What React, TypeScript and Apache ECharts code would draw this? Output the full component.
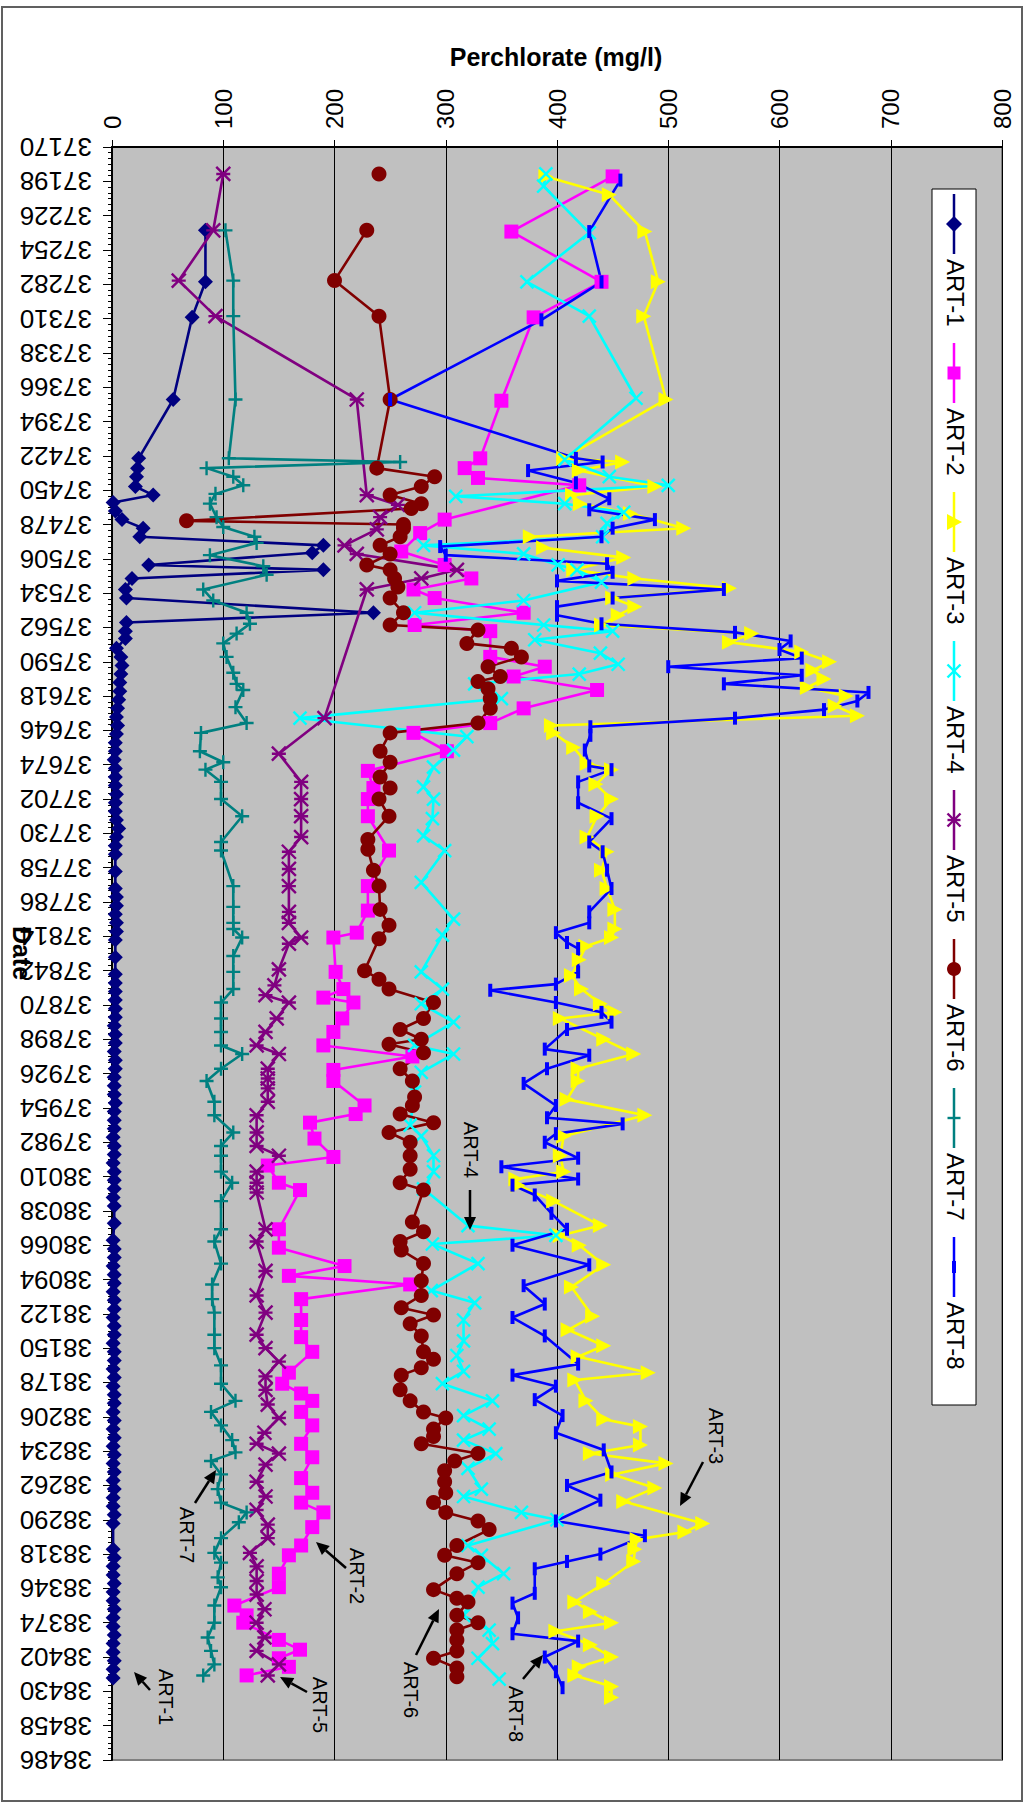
import React, { useEffect, useRef } from "react";
import * as echarts from "echarts";

// [date serial, perchlorate mg/l]
const art1: number[][] = [
  [37238,84],[37280,84],[37309,72],[37376,55],[37424,24],[37432,23],[37439,22],[37447,21],[37454,37],[37460,1],[37467,3],[37474,9],[37481,28],[37488,25],[37495,190],[37501,180],[37511,33],[37515,190],[37522,18],[37531,12],[37538,13],[37550,235],[37558,13],[37565,12],[37571,12],[37579,4],[37586,8],[37593,9],[37600,8],[37607,7],[37614,7],[37621,6],[37628,5],[37635,4],[37642,5],[37649,4],[37656,3],[37663,3],[37670,2],[37677,3],[37684,3],[37691,3],[37698,4],[37705,3],[37712,3],[37719,4],[37726,6],[37733,4],[37740,3],[37747,3],[37761,3],[37775,3],[37782,4],[37789,4],[37796,3],[37803,4],[37810,4],[37817,3],[37831,3],[37845,3],[37852,3],[37859,3],[37866,3],[37873,3],[37880,3],[37887,2],[37894,3],[37901,3],[37908,2],[37915,3],[37922,3],[37929,2],[37936,2],[37943,2],[37950,3],[37957,2],[37964,2],[37971,2],[37978,1],[37985,2],[37992,2],[37999,1],[38006,2],[38013,2],[38020,2],[38027,1],[38034,2],[38048,2],[38062,1],[38069,2],[38076,2],[38083,1],[38090,2],[38097,2],[38104,1],[38111,2],[38118,2],[38125,1],[38132,2],[38139,2],[38146,1],[38153,2],[38160,2],[38167,1],[38174,2],[38181,1],[38188,2],[38195,2],[38202,1],[38209,2],[38216,1],[38223,2],[38230,1],[38237,2],[38244,1],[38251,2],[38258,1],[38265,2],[38272,1],[38279,1],[38286,2],[38293,1],[38314,1],[38321,2],[38328,1],[38335,1],[38342,2],[38349,1],[38356,1],[38363,2],[38370,1],[38377,1],[38384,2],[38391,1],[38398,1],[38405,2],[38412,1],[38419,1]
];

const art2: number[][] = [
  [37194,450],[37239,359],[37280,440],[37309,379],[37377,350],[37424,331],[37432,317],[37440,329],[37446,420],[37474,299],[37485,277],[37500,260],[37511,299],[37522,323],[37531,271],[37538,290],[37550,370],[37560,272],[37565,340],[37586,340],[37594,389],[37602,361],[37613,436],[37628,370],[37640,340],[37648,271],[37663,301],[37679,230],[37693,235],[37702,230],[37716,230],[37744,249],[37773,230],[37793,230],[37811,220],[37815,199],[37843,201],[37857,208],[37864,190],[37868,217],[37881,207],[37892,199],[37903,190],[37912,270],[37923,199],[37932,199],[37952,227],[37959,219],[37966,178],[37979,182],[37994,199],[38001,140],[38015,150],[38021,169],[38053,150],[38068,150],[38083,209],[38091,159],[38098,268],[38110,170],[38127,170],[38141,170],[38153,180],[38170,159],[38179,153],[38187,170],[38193,180],[38202,170],[38213,180],[38228,170],[38239,180],[38256,170],[38268,180],[38276,170],[38284,190],[38296,180],[38311,170],[38319,159],[38334,150],[38345,150],[38360,110],[38368,121],[38374,118],[38388,150],[38396,169],[38403,150],[38410,159],[38417,121]
];

const art3: number[][] = [
  [37194,390],[37209,447],[37239,479],[37280,491],[37308,478],[37376,498],[37424,406],[37427,459],[37434,420],[37447,488],[37454,414],[37461,421],[37469,466],[37481,514],[37488,376],[37497,388],[37505,460],[37515,415],[37522,470],[37530,555],[37538,450],[37545,470],[37552,455],[37560,440],[37567,575],[37574,555],[37582,620],[37590,645],[37597,630],[37604,640],[37611,625],[37618,660],[37626,650],[37634,670],[37642,395],[37648,397],[37660,415],[37673,427],[37678,449],[37690,435],[37702,449],[37716,436],[37733,427],[37745,445],[37760,440],[37775,445],[37792,452],[37808,452],[37815,449],[37822,426],[37833,420],[37846,413],[37857,422],[37869,439],[37876,452],[37881,403],[37898,442],[37910,469],[37922,419],[37932,419],[37947,409],[37960,479],[37977,406],[37993,403],[38006,406],[38012,363],[38017,365],[38030,397],[38050,439],[38058,403],[38066,420],[38082,442],[38100,413],[38124,432],[38135,410],[38148,442],[38157,419],[38170,482],[38176,416],[38193,426],[38208,442],[38214,475],[38229,475],[38236,430],[38244,498],[38253,450],[38264,488],[38275,460],[38293,531],[38300,515],[38306,472],[38314,470],[38324,469],[38342,442],[38357,416],[38365,430],[38374,449],[38381,399],[38392,430],[38402,449],[38410,420],[38417,416],[38426,449],[38435,449]
];

const art4: number[][] = [
  [37192,390],[37202,388],[37240,429],[37280,373],[37308,429],[37375,471],[37425,407],[37439,447],[37446,500],[37455,309],[37461,407],[37468,460],[37477,445],[37488,441],[37495,280],[37502,370],[37511,401],[37515,418],[37525,440],[37540,370],[37550,272],[37560,388],[37565,450],[37572,380],[37583,439],[37592,455],[37600,420],[37608,326],[37620,350],[37636,169],[37651,319],[37662,307],[37676,289],[37692,280],[37702,289],[37718,288],[37732,280],[37744,299],[37770,278],[37800,307],[37813,297],[37843,278],[37857,297],[37869,278],[37884,307],[37903,272],[37910,307],[37925,278],[37941,272],[37968,268],[37977,278],[37993,289],[38006,289],[38020,280],[38050,320],[38058,399],[38065,288],[38081,329],[38103,287],[38113,326],[38127,316],[38144,316],[38156,310],[38169,316],[38179,297],[38193,342],[38205,316],[38216,339],[38225,316],[38236,345],[38248,320],[38265,332],[38271,316],[38284,368],[38290,400],[38311,320],[38319,332],[38334,352],[38345,329],[38368,316],[38380,339],[38391,342],[38403,329],[38420,348]
];

const art5: number[][] = [
  [37192,100],[37238,91],[37279,60],[37308,93],[37376,220],[37454,229],[37462,257],[37472,241],[37482,238],[37495,209],[37502,220],[37515,310],[37522,278],[37531,229],[37636,191],[37665,150],[37688,170],[37702,170],[37716,170],[37733,170],[37745,159],[37759,159],[37773,159],[37794,159],[37803,159],[37815,170],[37820,159],[37841,150],[37854,146],[37862,138],[37868,159],[37881,148],[37892,138],[37903,130],[37910,150],[37922,140],[37930,140],[37938,140],[37949,140],[37960,130],[37974,130],[37985,130],[37993,150],[38006,130],[38015,130],[38023,130],[38053,138],[38063,130],[38087,138],[38107,130],[38121,138],[38139,130],[38150,138],[38161,150],[38173,138],[38184,138],[38196,140],[38207,150],[38219,137],[38228,130],[38236,150],[38245,138],[38259,130],[38271,138],[38282,130],[38294,140],[38305,140],[38317,124],[38328,130],[38340,130],[38351,130],[38363,137],[38374,130],[38386,137],[38397,130],[38408,150],[38417,140]
];

const art6First: number[][] = [[37192,240]];
const art6: number[][] = [
  [37238,229],[37279,200],[37308,240],[37376,250],[37432,238],[37439,290],[37447,278],[37454,250],[37461,278],[37465,269],[37475,67],[37478,262],[37481,262],[37488,259],[37495,241],[37502,250],[37511,229],[37515,250],[37522,254],[37529,257],[37538,250],[37550,262],[37560,250],[37564,329],[37575,319],[37579,359],[37586,368],[37594,338],[37602,349],[37606,329],[37612,338],[37620,340],[37628,340],[37640,329],[37648,250],[37663,241],[37672,250],[37684,241],[37693,250],[37702,240],[37716,249],[37735,230],[37743,230],[37760,235],[37773,240],[37792,241],[37805,249],[37816,240],[37842,227],[37849,240],[37857,249],[37868,289],[37881,280],[37890,259],[37898,278],[37902,249],[37909,280],[37922,259],[37932,270],[37945,272],[37952,270],[37959,259],[37966,289],[37974,249],[37982,268],[37993,268],[38004,268],[38015,259],[38021,280],[38047,270],[38055,280],[38063,259],[38070,260],[38081,280],[38095,278],[38107,278],[38117,260],[38123,289],[38130,268],[38140,278],[38153,280],[38159,289],[38166,278],[38172,260],[38184,259],[38193,268],[38202,280],[38207,300],[38216,289],[38222,289],[38228,278],[38236,329],[38242,308],[38250,299],[38259,299],[38268,300],[38276,289],[38284,300],[38291,329],[38298,339],[38311,310],[38319,299],[38325,329],[38334,310],[38347,289],[38354,310],[38357,320],[38368,310],[38374,329],[38380,310],[38388,310],[38397,310],[38403,289],[38411,310],[38418,310]
];

const art7: number[][] = [
  [37238,102],[37279,109],[37308,109],[37376,111],[37424,105],[37427,259],[37432,85],[37439,109],[37446,118],[37453,93],[37461,88],[37472,94],[37480,100],[37488,128],[37493,130],[37503,88],[37512,136],[37519,139],[37531,82],[37540,91],[37550,121],[37559,124],[37567,112],[37575,100],[37586,103],[37599,109],[37608,112],[37613,118],[37627,111],[37640,121],[37648,80],[37663,79],[37672,100],[37678,84],[37688,98],[37702,98],[37716,117],[37737,98],[37744,98],[37773,109],[37790,109],[37803,109],[37808,109],[37815,117],[37830,109],[37843,109],[37857,109],[37868,98],[37881,98],[37892,98],[37903,98],[37910,117],[37922,98],[37932,85],[37949,92],[37960,92],[37974,109],[37985,98],[37993,98],[38006,98],[38015,108],[38030,98],[38053,98],[38063,92],[38081,98],[38098,90],[38110,90],[38121,92],[38139,92],[38150,92],[38164,98],[38179,98],[38193,111],[38202,89],[38213,98],[38225,108],[38235,111],[38242,89],[38253,98],[38265,95],[38276,98],[38284,121],[38292,114],[38305,98],[38317,92],[38325,98],[38337,95],[38345,98],[38360,92],[38374,92],[38386,86],[38397,89],[38408,92],[38417,82]
];

const art8: number[][] = [
  [37197,457],[37239,429],[37280,440],[37311,386],[37376,250],[37424,417],[37427,441],[37434,374],[37444,417],[37457,447],[37466,429],[37474,488],[37481,450],[37488,440],[37496,295],[37503,300],[37510,445],[37517,450],[37524,400],[37531,550],[37538,450],[37545,400],[37552,400],[37559,440],[37566,560],[37573,610],[37580,600],[37587,620],[37594,500],[37601,620],[37608,550],[37615,680],[37622,670],[37629,640],[37636,560],[37643,430],[37650,430],[37662,425],[37675,429],[37678,449],[37688,419],[37705,419],[37718,449],[37737,429],[37745,441],[37760,445],[37775,449],[37794,429],[37803,429],[37811,399],[37819,409],[37824,419],[37843,419],[37853,399],[37858,340],[37868,399],[37876,440],[37884,449],[37890,409],[37906,389],[37911,429],[37922,391],[37934,370],[37952,399],[37962,391],[37967,459],[37975,399],[37982,389],[37995,419],[38002,350],[38012,419],[38017,360],[38025,380],[38040,395],[38053,409],[38066,360],[38082,429],[38099,370],[38114,389],[38125,360],[38140,389],[38163,419],[38172,360],[38181,399],[38192,380],[38205,405],[38219,399],[38233,442],[38251,449],[38262,409],[38274,439],[38291,399],[38303,479],[38318,439],[38324,409],[38330,380],[38350,380],[38358,360],[38370,365],[38383,360],[38389,419],[38402,389],[38414,399],[38427,405]
];

const seriesNames = ["ART-1", "ART-2", "ART-3", "ART-4", "ART-5", "ART-6", "ART-7", "ART-8"];
const seriesColors = ["#000080", "#FF00FF", "#FFFF00", "#00FFFF", "#800080", "#800000", "#008080", "#0000FF"];

const FONT = '"Liberation Sans", Arial, sans-serif';

const PATH_X = "path://M0,0L10,10M10,0L0,10";
const PATH_STAR = "path://M0,0L10,10M10,0L0,10M0,5L10,5";
const PATH_PLUS = "path://M5,0L5,10M0,5L10,5";

function makeSeries(name: string, data: number[][], color: string, symbol: string, size: any, stroke: boolean, rotate = 0) {
  return {
    type: "line",
    name,
    data: data.map((p) => [p[1], p[0]]),
    symbol,
    symbolSize: size,
    symbolRotate: rotate,
    silent: true,
    lineStyle: { color, width: 2.6 },
    itemStyle: { color, borderColor: color, borderWidth: stroke ? 2.4 : 0 },
  };
}

function arrow(x1: number, y1: number, x2: number, y2: number) {
  const dx = x2 - x1, dy = y2 - y1;
  const len = Math.hypot(dx, dy);
  const ux = dx / len, uy = dy / len;
  const hl = 13, hw = 6;
  const bx = x2 - ux * hl, by = y2 - uy * hl;
  return [
    { type: "line", shape: { x1, y1, x2: bx, y2: by }, style: { stroke: "#000", lineWidth: 2.5 } },
    { type: "polygon", shape: { points: [[x2, y2], [bx - uy * hw, by + ux * hw], [bx + uy * hw, by - ux * hw]] }, style: { fill: "#000" } },
  ];
}

function vtext(text: string, x: number, y: number, size: number, bold = false, align = "center") {
  return {
    type: "text",
    x, y,
    rotation: -Math.PI / 2,
    style: {
      text,
      fill: "#000",
      font: `${bold ? "bold " : ""}${size}px ${FONT}`,
      textAlign: align, align,
      textVerticalAlign: "middle", verticalAlign: "middle",
    },
  };
}

function legendMarker(i: number, cx: number, cy: number) {
  const c = seriesColors[i];
  const els: any[] = [{ type: "line", shape: { x1: cx, y1: cy - 30, x2: cx, y2: cy + 30 }, style: { stroke: c, lineWidth: 2.5 } }];
  const s = 6.5;
  if (i === 0) els.push({ type: "polygon", shape: { points: [[cx, cy - 8], [cx + 8, cy], [cx, cy + 8], [cx - 8, cy]] }, style: { fill: c } });
  if (i === 1) els.push({ type: "rect", shape: { x: cx - s, y: cy - s, width: 2 * s, height: 2 * s }, style: { fill: c } });
  if (i === 2) els.push({ type: "polygon", shape: { points: [[cx - 7, cy - 8], [cx + 8, cy], [cx - 7, cy + 8]] }, style: { fill: c } });
  if (i === 3 || i === 4) {
    els.push({ type: "line", shape: { x1: cx - s, y1: cy - s, x2: cx + s, y2: cy + s }, style: { stroke: c, lineWidth: 2.4 } });
    els.push({ type: "line", shape: { x1: cx + s, y1: cy - s, x2: cx - s, y2: cy + s }, style: { stroke: c, lineWidth: 2.4 } });
    if (i === 4) els.push({ type: "line", shape: { x1: cx - s, y1: cy, x2: cx + s, y2: cy }, style: { stroke: c, lineWidth: 2.4 } });
  }
  if (i === 5) els.push({ type: "circle", shape: { cx, cy, r: 7 }, style: { fill: c } });
  if (i === 6) els.push({ type: "line", shape: { x1: cx - s, y1: cy, x2: cx + s, y2: cy }, style: { stroke: c, lineWidth: 2.4 } });
  if (i === 7) els.push({ type: "rect", shape: { x: cx - 2, y: cy - 6, width: 4, height: 12 }, style: { fill: c } });
  return els;
}

export default function App() {
  const ref = useRef<HTMLDivElement>(null);
  useEffect(() => {
    if (!ref.current) return;
    const chart = echarts.init(ref.current, undefined, { renderer: "svg" });

    const series = [
      makeSeries("ART-1", art1, seriesColors[0], "diamond", 15, false),
      makeSeries("ART-2", art2, seriesColors[1], "rect", 14, false),
      makeSeries("ART-3", art3, seriesColors[2], "triangle", 15, false, -90),
      makeSeries("ART-4", art4, seriesColors[3], PATH_X, 13, true),
      makeSeries("ART-5", art5, seriesColors[4], PATH_STAR, 14, true),
      makeSeries("ART-6", art6First, seriesColors[5], "circle", 15, false),
      makeSeries("ART-6", art6, seriesColors[5], "circle", 15, false),
      makeSeries("ART-7", art7, seriesColors[6], PATH_PLUS, 14, true),
      makeSeries("ART-8", art8, seriesColors[7], "rect", [4, 13], false),
    ];

    const graphic: any[] = [];
    graphic.push({ type: "rect", shape: { x: 2, y: 7, width: 1020, height: 1794 }, style: { fill: "none", stroke: "#606060", lineWidth: 2 }, z: 100 });
    graphic.push({
      type: "text", x: 556, y: 57,
      style: { text: "Perchlorate (mg/l)", fill: "#000", font: `bold 25px ${FONT}`, textAlign: "center", align: "center", textVerticalAlign: "middle", verticalAlign: "middle" },
    });
    graphic.push(vtext("Date", 22, 953, 25, true));

    // legend
    const lx = 932, ly = 189, lw = 44, lh = 1216;
    graphic.push({ type: "rect", shape: { x: lx, y: ly, width: lw, height: lh }, style: { fill: "#fff", stroke: "#000", lineWidth: 1 }, z: 50 });
    seriesNames.forEach((n, i) => {
      const cy = 224 + 149 * i;
      legendMarker(i, 954, cy).forEach((e) => graphic.push({ ...e, z: 51 }));
      graphic.push({ ...vtext(n, 955, cy + 35, 24, false, "left"), z: 51 });
    });

    // annotations
    const notes: [string, number, number, number, number, number, number][] = [
      ["ART-4", 471, 1150, 470, 1190, 470, 1230],
      ["ART-3", 716, 1436, 703, 1462, 680, 1506],
      ["ART-7", 187, 1535, 195, 1503, 216, 1470],
      ["ART-2", 357, 1576, 346, 1568, 316, 1542],
      ["ART-5", 320, 1705, 307, 1692, 280, 1677],
      ["ART-6", 411, 1690, 416, 1655, 439, 1609],
      ["ART-8", 516, 1714, 523, 1679, 543, 1655],
      ["ART-1", 166, 1697, 150, 1690, 134, 1672],
    ];
    notes.forEach(([t, tx, ty, ax1, ay1, ax2, ay2]) => {
      graphic.push({ ...vtext(t, tx, ty, 20), z: 60 });
      arrow(ax1, ay1, ax2, ay2).forEach((e) => graphic.push({ ...e, z: 60 }));
    });

    chart.setOption({
      animation: false,
      backgroundColor: "#ffffff",
      grid: {
        left: 112, top: 147, width: 890, height: 1613,
        show: true, backgroundColor: "#C0C0C0", borderColor: "#808080", borderWidth: 2,
      },
      xAxis: {
        type: "value", position: "top", min: 0, max: 800, interval: 100,
        axisLine: { show: true, onZero: false, lineStyle: { color: "#000", width: 2 } },
        axisTick: { show: true, length: 7, lineStyle: { color: "#000" } },
        axisLabel: { rotate: -90, fontSize: 24, color: "#000", fontFamily: FONT, margin: 18 },
        splitLine: { show: true, lineStyle: { color: "#000", width: 1 } },
      },
      yAxis: {
        type: "value", inverse: true, min: 37170, max: 38486, interval: 28,
        axisLine: { show: true, onZero: false, lineStyle: { color: "#000", width: 2 } },
        axisTick: { show: true, length: 9, lineStyle: { color: "#000" } },
        minorTick: { show: true, splitNumber: 6, length: 4, lineStyle: { color: "#000" } },
        axisLabel: { rotate: 180, fontSize: 26, color: "#000", fontFamily: FONT, margin: 20, formatter: (v: number) => String(v) },
        splitLine: { show: false },
      },
      series,
      graphic,
    });
    return () => chart.dispose();
  }, []);
  return <div ref={ref} style={{ position: "absolute", left: 0, top: 0, width: 1025, height: 1803, background: "#fff" }} />;
}
